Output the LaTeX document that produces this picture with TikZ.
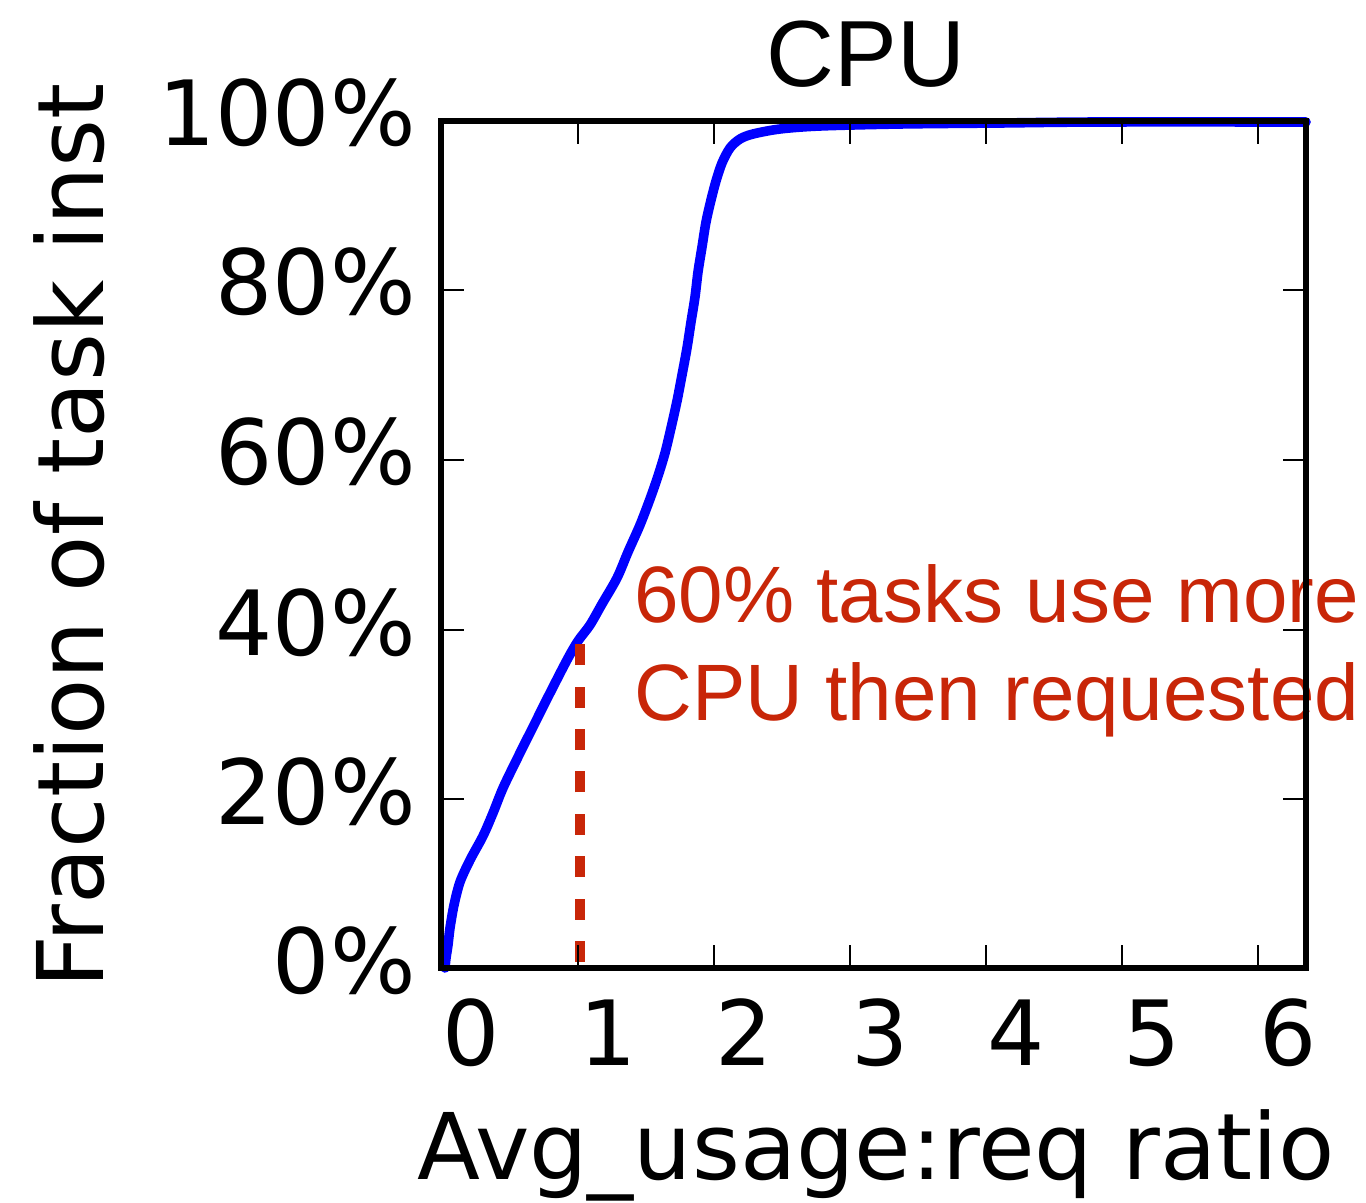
\documentclass[tikz,border=0pt]{standalone}
\usepackage{fontspec}
\setmainfont{DejaVu Sans}
\newfontfamily\helv{Liberation Sans}
\definecolor{cdfblue}{RGB}{0,0,255}
\definecolor{annotred}{RGB}{200,38,8}
\begin{document}
\begin{tikzpicture}[x=0.5pt,y=-0.5pt,
  ticklabel/.style={inner sep=0pt, font=\fontsize{45}{54}\selectfont},
  axislabel/.style={inner sep=0pt, font=\fontsize{46}{55}\selectfont},
  frameline/.style={line width=3pt, line cap=rect},
  tickline/.style={line width=1.25pt},
  cdfline/.style={cdfblue, line width=4.8pt, line join=round, line cap=round},
  markline/.style={annotred, line width=5.3pt, dash pattern=on 10.5pt off 10.7pt},
  notetext/.style={inner sep=0pt, annotred, font=\helv\fontsize{40}{48}\selectfont}]
\useasboundingbox (0,0) rectangle (1366,1203);

% CDF curve
\draw[cdfline] plot[smooth, tension=0.5] coordinates {
  (445,968) (446,958) (448,945) (450,928) (454,905) (460,882) (470,860)
  (483,836) (493,813) (503,788) (518,757) (533,727) (550,693) (567,660)
  (578,641) (590,625) (602,604) (617,578) (628,552) (640,525) (650,499)
  (658,476) (665,453) (671,428) (677,401) (682,375) (687,348) (691,322)
  (695,297) (698,272) (702,247) (706,222) (711,200) (716,181) (722,163)
  (730,148) (740,139) (753,134) (780,129) (820,126) (900,124) (1000,123)
  (1100,122) (1306,122)};

% marker at ratio = 1
\coordinate (dashtop) at (580,643);
\coordinate (dashbot) at (580,962);
\draw[markline] (dashbot) -- (dashtop);

% annotation
\node[notetext, anchor=base west] (noteA) at (634,623) {60\% tasks use more};
\node[notetext, anchor=base west] (noteB) at (634,720) {CPU then requested};

% axes frame
\draw[frameline] (441,121) rectangle (1306,968);

% x ticks (bottom and top)
\foreach \tx in {578,714,850,986,1122,1258} {
  \draw[tickline] (\tx,968) -- (\tx,945);
  \draw[tickline] (\tx,121) -- (\tx,144);
}
% y ticks (left and right)
\foreach \ty in {290,460,630,799} {
  \draw[tickline] (441,\ty) -- (464,\ty);
  \draw[tickline] (1306,\ty) -- (1283,\ty);
}

% x tick labels
\foreach \tx/\lab in {441/0,578/1,714/2,850/3,986/4,1122/5,1258/6} {
  \node[ticklabel, anchor=base] (xl\lab) at (\tx+30,1065) {\lab};
}
% y tick labels
\foreach \ty/\lab in {968/0,799/20,630/40,460/60,290/80,121/100} {
  \node[ticklabel, anchor=base east] (yl\lab) at (416,\ty+25) {\lab\%};
}

% axis labels and title
\node[axislabel, anchor=base] (xlabel) at (876,1179) {Avg\_usage:req ratio};
\node[axislabel, anchor=base, rotate=90] (ylabel) at (103,536) {Fraction of task inst};
\node[inner sep=0pt, anchor=base, font=\helv\fontsize{47}{56}\selectfont] (title) at (866,87) {CPU};
\end{tikzpicture}
\end{document}
